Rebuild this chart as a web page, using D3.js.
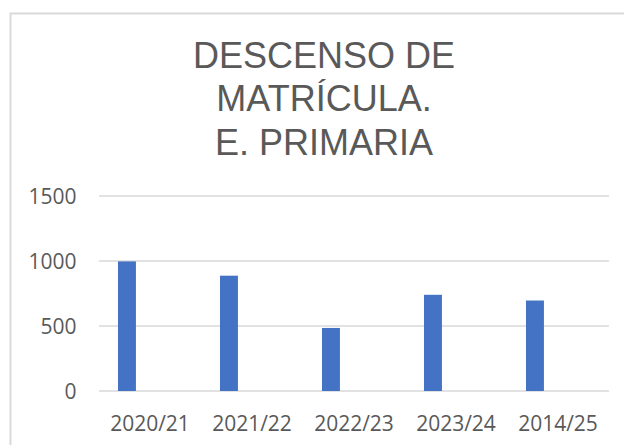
<!DOCTYPE html>
<html>
<head>
<meta charset="utf-8">
<script src="https://cdn.jsdelivr.net/npm/d3@7"></script>
<style>
  body { margin: 0; background: #fff; }
</style>
</head>
<body>
<div id="chart"></div>
<script>
const titleLines = ["DESCENSO DE", "MATRÍCULA.", "E. PRIMARIA"];
const categories = ["2020/21", "2021/22", "2022/23", "2023/24", "2014/25"];
const values = [997, 887, 485, 740, 696];
const yTicks = [0, 500, 1000, 1500];

const W = 624, H = 445;
let margin = {top: 196, right: 15, bottom: 54, left: 99};
const labelFont = "'Open Sans', sans-serif";

const svg = d3.select("#chart").append("svg")
    .attr("width", W).attr("height", H);

// chart frame
svg.append("rect")
    .attr("x", 10.5).attr("y", 13.5)
    .attr("width", 640).attr("height", 460)
    .attr("fill", "#fff")
    .attr("stroke", "#d9d9d9")
    .attr("stroke-width", 2);

// title
svg.append("g").selectAll("text")
    .data(titleLines)
    .join("text")
    .attr("x", 324)
    .attr("y", (d, i) => 67.5 + i * 43.5)
    .attr("text-anchor", "middle")
    .attr("font-family", "'Liberation Sans', Arial, sans-serif")
    .attr("font-size", 36)
    .attr("fill", "#595959")
    .text(d => d);

let x = d3.scaleBand()
    .domain(categories)
    .range([margin.left, W - margin.right])
    .paddingInner(0).paddingOuter(0);

let y = d3.scaleLinear()
    .domain([0, 1500])
    .range([H - margin.bottom, margin.top]);

// gridlines
svg.append("g").selectAll("line")
    .data(yTicks)
    .join("line")
    .attr("x1", margin.left).attr("x2", W - margin.right)
    .attr("y1", d => y(d)).attr("y2", d => y(d))
    .attr("stroke", "#d9d9d9")
    .attr("stroke-width", 1.5);

// y labels
svg.append("g").selectAll("text")
    .data(yTicks)
    .join("text")
    .attr("x", 76.5)
    .attr("y", d => y(d))
    .attr("dy", "0.36em")
    .attr("text-anchor", "end")
    .attr("font-family", labelFont)
    .attr("font-size", 21)
    .attr("fill", "#595959")
    .text(d => d);

// bars (single series sits left of centre in each category)
svg.append("g").selectAll("rect")
    .data(values)
    .join("rect")
    .attr("x", (d, i) => x(categories[i]) + x.bandwidth() * 0.186)
    .attr("width", x.bandwidth() * 0.176)
    .attr("y", d => y(d))
    .attr("height", d => y(0) - y(d))
    .attr("fill", "#4472c4");

// x labels
svg.append("g").selectAll("text")
    .data(categories)
    .join("text")
    .attr("x", d => x(d) + x.bandwidth() / 2)
    .attr("y", 430.5)
    .attr("text-anchor", "middle")
    .attr("font-family", labelFont)
    .attr("font-size", 21)
    .attr("fill", "#595959")
    .text(d => d);
</script>
</body>
</html>
